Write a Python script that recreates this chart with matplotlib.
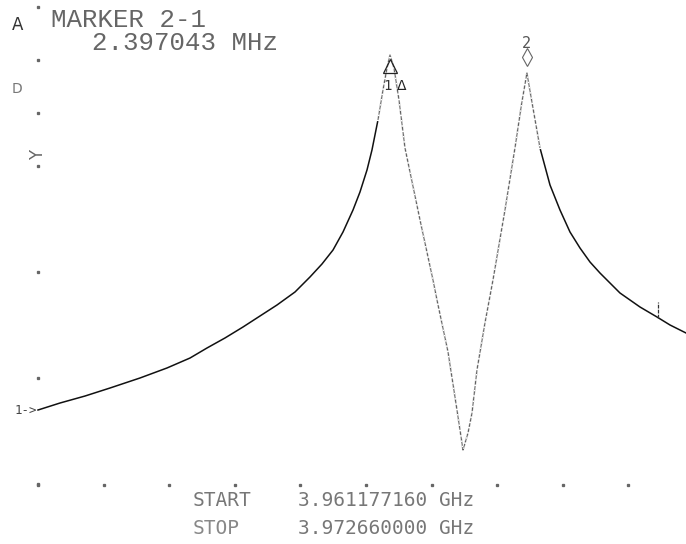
import numpy as np
import matplotlib
matplotlib.use("Agg")
import matplotlib.pyplot as plt

# sweep settings (from the plotter annotation)
start_ghz = 3.961177160
stop_ghz = 3.972660000
span_mhz = (stop_ghz - start_ghz) * 1000.0
n_div_x = 10
n_div_y = 9

# trace: frequency offset from START (MHz), level (divisions)
freq_mhz = [0.000, 0.385, 0.823, 1.260, 1.785, 2.258, 2.661, 2.958, 3.273, 3.588,
            3.886, 4.183, 4.499, 4.761, 4.971, 5.164, 5.339, 5.514, 5.636, 5.759,
            5.846, 5.951, 6.039, 6.109, 6.161, 6.231, 6.319, 6.424, 6.687, 6.914,
            6.984, 7.177, 7.299, 7.387, 7.439, 7.527, 7.597, 7.684, 7.824, 7.964,
            8.174, 8.349, 8.462, 8.558, 8.640, 8.787, 8.962, 9.137, 9.312, 9.487,
            9.662, 9.837, 10.187, 10.537, 10.835, 11.063, 11.343]
level_div = [1.396, 1.528, 1.660, 1.811, 2.000, 2.189, 2.377, 2.566, 2.755, 2.962,
             3.170, 3.377, 3.623, 3.906, 4.151, 4.415, 4.755, 5.170, 5.509, 5.925,
             6.302, 6.868, 7.434, 7.849, 8.094, 7.849, 7.245, 6.340, 4.981, 3.849,
             3.472, 2.491, 1.642, 1.019, 0.642, 0.962, 1.340, 2.151, 3.038, 3.849,
             5.170, 6.340, 7.151, 7.755, 7.245, 6.340, 5.642, 5.170, 4.755, 4.453,
             4.189, 3.981, 3.604, 3.340, 3.151, 3.000, 2.849]

# marker positions
mkr1_f, mkr1_lvl = 6.161, 8.094
mkr2_f, mkr2_lvl = 8.558, 7.755
delta_mhz = 2.397043
ref_level = 1.396
spike_f, spike_lo, spike_hi = 10.853, 3.13, 3.43

# graticule edge dots that are visible
left_dots = [9, 8, 7, 6, 4, 2, 0]
bottom_dots = list(range(n_div_x))

fig = plt.figure(figsize=(6.86, 5.44), dpi=100)
ax = fig.add_axes([38 / 686, 60 / 544, 656 / 686, 477 / 544])
ax.set_xlim(0, span_mhz)
ax.set_ylim(0, n_div_y)
ax.axis("off")

f = np.array(freq_mhz)
lv = np.array(level_div)
steep = (f > 5.85) & (f < 8.8)
# slow parts drawn dark, fast pen moves come out thin and broken
ax.plot(f, lv, color="#111111", lw=1.1, clip_on=False)
ax.plot(f[steep], lv[steep], color="white", lw=1.6, clip_on=False)
ax.plot(f[steep], lv[steep], color="#555555", lw=0.7, ls=(0, (4, 1.5)), clip_on=False)
ax.vlines(spike_f, spike_lo, spike_hi, color="#333333", lw=0.9, linestyles=(0, (3, 1)))

# graticule dots
dx = span_mhz / n_div_x
ax.plot(np.zeros(len(left_dots)), left_dots, ls="none", marker="s", ms=1.4,
        color="#666666", clip_on=False)
ax.plot(np.array(bottom_dots) * dx, np.full(len(bottom_dots), -0.02), ls="none",
        marker="s", ms=1.4, color="#666666", clip_on=False)

# markers
ax.plot(mkr1_f, mkr1_lvl - 0.2, marker="^", ms=10, mfc="none", mec="#222222", mew=0.9,
        clip_on=False)
ax.text(mkr1_f - 0.05, mkr1_lvl - 0.58, "1", fontsize=10, family="DejaVu Sans Mono",
        color="#333333", ha="center", va="center")
ax.text(mkr1_f + 0.2, mkr1_lvl - 0.58, "\u0394", fontsize=10, family="DejaVu Sans",
        color="#222222", ha="center", va="center")
ax.plot(mkr2_f, mkr2_lvl + 0.3, marker="d", ms=9, mfc="none", mec="#666666", mew=0.8,
        clip_on=False)
ax.text(mkr2_f, mkr2_lvl + 0.55, "2", fontsize=11, family="DejaVu Sans Mono",
        color="#555555", ha="center", va="center")

# reference level arrow
ax.text(-0.02, ref_level, "1->", fontsize=9, family="DejaVu Sans Mono",
        color="#444444", ha="right", va="center")

# side labels
fig.text(18 / 686, 1 - 25 / 544, "A", fontsize=12, family="DejaVu Sans", ha="center",
         va="center", color="#333333")
fig.text(17 / 686, 1 - 89 / 544, "D", fontsize=10, family="DejaVu Sans", ha="center",
         va="center", color="#777777")
fig.text(38 / 686, 1 - 155 / 544, "Y", fontsize=12, family="DejaVu Sans", rotation=90,
         ha="center", va="center", color="#666666")

# header
fig.text(51 / 686, 1 - 20 / 544, "MARKER 2-1", fontsize=18.5, family="Liberation Mono",
         ha="left", va="center", color="#666666")
fig.text(92 / 686, 1 - 43 / 544, "%.6f MHz" % delta_mhz, fontsize=18.5,
         family="Liberation Mono", ha="left", va="center", color="#666666")

# footer
fig.text(193 / 686, 1 - 500 / 544, "START", fontsize=14, family="DejaVu Sans Mono",
         ha="left", va="center", color="#777777")
fig.text(298 / 686, 1 - 500 / 544, "%.9f GHz" % start_ghz, fontsize=14,
         family="DejaVu Sans Mono", ha="left", va="center", color="#777777")
fig.text(193 / 686, 1 - 528 / 544, "STOP", fontsize=14, family="DejaVu Sans Mono",
         ha="left", va="center", color="#888888")
fig.text(298 / 686, 1 - 528 / 544, "%.9f GHz" % stop_ghz, fontsize=14,
         family="DejaVu Sans Mono", ha="left", va="center", color="#777777")

fig.savefig("out.png", dpi=100, facecolor="white")
